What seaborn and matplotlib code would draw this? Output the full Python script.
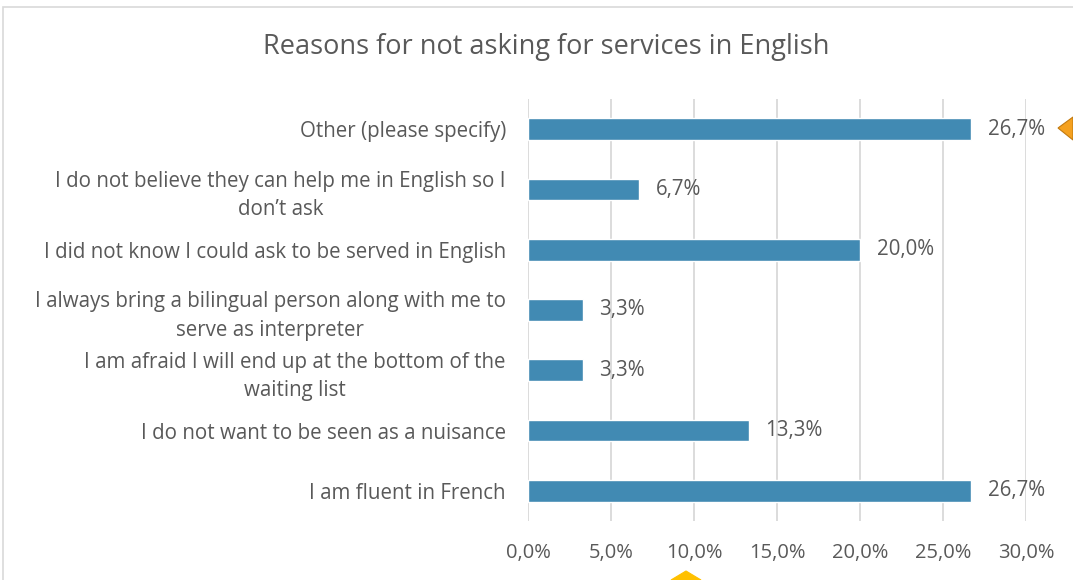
import matplotlib
matplotlib.use("Agg")
import matplotlib.pyplot as plt
from matplotlib.patches import Polygon, Rectangle
import seaborn as sns
import pandas as pd

# Survey responses, top to bottom as shown on the chart
reasons = [
    "Other (please specify)",
    "I do not believe they can help me in English so I\ndon\u2019t ask",
    "I did not know I could ask to be served in English",
    "I always bring a bilingual person along with me to\nserve as interpreter",
    "I am afraid I will end up at the bottom of the\nwaiting list",
    "I do not want to be seen as a nuisance",
    "I am fluent in French",
]
shares = [26.7, 6.7, 20.0, 3.3, 3.3, 13.3, 26.7]
x_ticks = [0, 5, 10, 15, 20, 25, 30]

df = pd.DataFrame({"reason": reasons, "share": shares})

sns.set_style("white")
plt.rcParams["font.family"] = ["Open Sans", "DejaVu Sans"]

text_color = "#595959"
grid_color = "#D9D9D9"
bar_color = "#418AB3"

fig = plt.figure(figsize=(10.73, 5.8), dpi=100)
ax = fig.add_axes([528 / 1073, 1 - 521 / 580, (1026 - 528) / 1073, (521 - 99) / 580])

sns.barplot(data=df, y="reason", x="share", orient="h", color=bar_color,
            width=0.36, saturation=1, ax=ax, order=reasons)

ax.set_xlim(0, 30)
ax.set_xticks(x_ticks)
ax.set_xticklabels([f"{t:.1f}%".replace(".", ",") for t in x_ticks],
                   fontsize=14.5, color=text_color)
ax.tick_params(axis="x", length=0, pad=16)
ax.tick_params(axis="y", length=0, pad=16)
for lbl in ax.get_yticklabels():
    lbl.set_fontsize(14.8)
    lbl.set_color(text_color)
    lbl.set_multialignment("center")
    lbl.set_linespacing(1.45)
ax.set_xlabel("")
ax.set_ylabel("")
ax.xaxis.grid(True, color=grid_color, linewidth=1.3)
ax.set_axisbelow(True)
for s in ax.spines.values():
    s.set_visible(False)

# Value labels at the end of each bar
for i, v in enumerate(shares):
    ax.annotate(f"{v:.1f}%".replace(".", ","), xy=(v, i), xytext=(12, 0),
                textcoords="offset points", va="center", ha="left",
                fontsize=14.8, color=text_color)

fig.suptitle("Reasons for not asking for services in English", x=546 / 1073,
             y=1 - 47 / 580, va="center", fontsize=19.5, color=text_color)

# Chart-area frame
fig.patches.append(Rectangle((3 / 1073, -0.01), 1.02, 1 - 7 / 580 + 0.01,
                             transform=fig.transFigure, fill=False,
                             edgecolor="#D9D9D9", linewidth=1.2))

# Selection handles on the chart edges
fig.patches.append(Polygon([(1058 / 1073, 1 - 128 / 580), (1073 / 1073, 1 - 117 / 580),
                            (1073 / 1073, 1 - 140 / 580)], closed=True,
                           transform=fig.transFigure, facecolor="#F5A11F",
                           edgecolor="#C27A10", linewidth=0.8))
fig.patches.append(Polygon([(671 / 1073, 0), (686 / 1073, 1 - 571 / 580),
                            (701 / 1073, 0)], closed=True,
                           transform=fig.transFigure, facecolor="#FFC000",
                           edgecolor="#FFC000", linewidth=0.8))

fig.savefig("out.png", dpi=100)
